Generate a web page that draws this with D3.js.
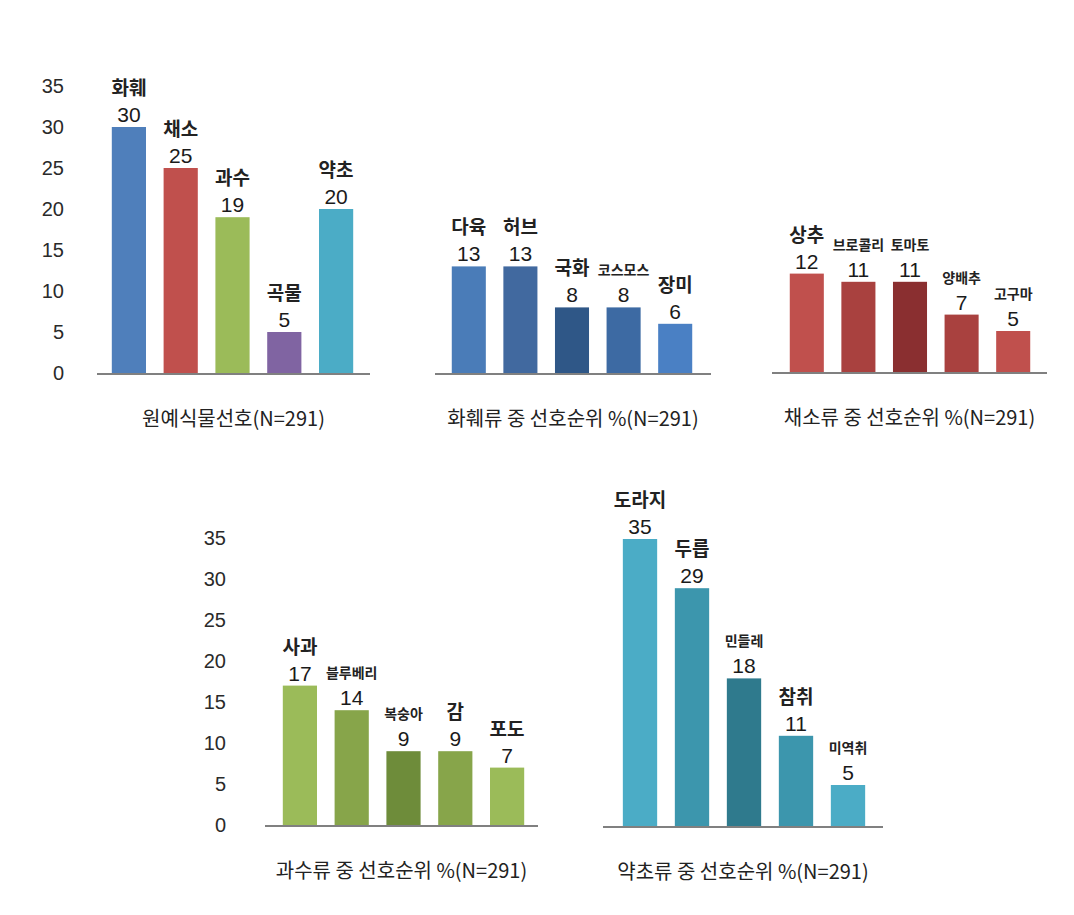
<!DOCTYPE html>
<html><head><meta charset="utf-8">
<script src="https://cdn.jsdelivr.net/npm/d3@7"></script>
<style>body{margin:0;background:#fff}</style>
</head><body><svg id="c" width="1074" height="915"></svg>
<script>
// ---- data ----
const mainCats = ["화훼","채소","과수","곡물","약초"];
const mainVals = [30,25,19,5,20];
const flowerCats = ["다육","허브","국화","코스모스","장미"];
const flowerVals = [13,13,8,8,6];
const vegCats = ["상추","브로콜리","토마토","양배추","고구마"];
const vegVals = [12,11,11,7,5];
const fruitCats = ["사과","블루베리","복숭아","감","포도"];
const fruitVals = [17,14,9,9,7];
const herbCats = ["도라지","두릅","민들레","참취","미역취"];
const herbVals = [35,29,18,11,5];
const tickVals = [0,5,10,15,20,25,30,35];
const titles = ["원예식물선호(N=291)","화훼류 중 선호순위 %(N=291)","채소류 중 선호순위 %(N=291)","과수류 중 선호순위 %(N=291)","약초류 중 선호순위 %(N=291)"];

// ---- style / layout ----
const smallLabels = new Set(["코스모스","브로콜리","토마토","양배추","고구마","블루베리","복숭아","민들레","미역취"]);
const panels = [
  {cats: mainCats, vals: mainVals, title: titles[0], band:[103,362], base:[97,370], y0:373, axisX:64,
   colors:["#4f7fbb","#c0504d","#9bbb59","#8064a2","#4bacc6"]},
  {cats: flowerCats, vals: flowerVals, title: titles[1], band:[443,701], base:[435,711], y0:373,
   colors:["#4a7cb8","#41699f","#2f5787","#3d6aa3","#4a80c4"]},
  {cats: vegCats, vals: vegVals, title: titles[2], band:[781,1039], base:[772,1047], y0:372,
   colors:["#c0504d","#a9413f","#8a2f30","#a9413f","#c0504d"]},
  {cats: fruitCats, vals: fruitVals, title: titles[3], band:[274,533], base:[265,538], y0:825, axisX:226,
   colors:["#9bbb59","#87a54a","#6e8c3a","#87a54a","#9bbb59"]},
  {cats: herbCats, vals: herbVals, title: titles[4], band:[614,874], base:[603,883], y0:826,
   colors:["#4bacc6","#3c96ad","#2f7a8d","#3c96ad","#4bacc6"]}
];
const pxPerUnit = 8.2;
const svg = d3.select("#c");
const kr = "'Noto Sans CJK KR','Noto Sans',sans-serif";
const num = "'Liberation Sans',Arial,sans-serif";

panels.forEach(p => {
  const g = svg.append("g");
  const x = d3.scaleBand().domain(p.cats).range(p.band).paddingInner(0.34).paddingOuter(0.17);
  const y = d3.scaleLinear().domain([0,35]).range([p.y0, p.y0 - 35*pxPerUnit]);

  if (p.axisX !== undefined) {
    const ax = g.append("g").attr("transform", `translate(${p.axisX},0)`)
      .call(d3.axisLeft(y).tickValues(tickVals).tickSize(0).tickPadding(0));
    ax.select(".domain").remove();
    ax.selectAll("text").attr("font-family", num).attr("font-size", 20).attr("fill", "#2a2a2a");
  }

  const data = p.cats.map((c,i) => ({c, v: p.vals[i], col: p.colors[i]}));
  g.selectAll("rect").data(data).join("rect")
    .attr("x", d => x(d.c)).attr("width", x.bandwidth())
    .attr("y", d => y(d.v)).attr("height", d => y(0) - y(d.v))
    .attr("fill", d => d.col);

  g.append("line").attr("x1", p.base[0]).attr("x2", p.base[1])
    .attr("y1", p.y0 + 1).attr("y2", p.y0 + 1)
    .attr("stroke", "#808080").attr("stroke-width", 2);

  g.selectAll("text.val").data(data).join("text").attr("class","val")
    .attr("x", d => x(d.c) + x.bandwidth()/2).attr("y", d => y(d.v) - 5)
    .attr("text-anchor","middle").attr("font-family", num).attr("font-size", 21)
    .attr("fill", "#1a1a1a").text(d => d.v);

  g.selectAll("text.cat").data(data).join("text").attr("class","cat")
    .attr("x", d => x(d.c) + x.bandwidth()/2).attr("y", d => y(d.v) - 32)
    .attr("text-anchor","middle").attr("font-family", kr)
    .attr("font-size", d => smallLabels.has(d.c) ? 14 : 19)
    .attr("font-weight", "bold").attr("fill", "#222").text(d => d.c);

  g.append("text").attr("x", (p.base[0]+p.base[1])/2).attr("y", p.y0 + 53)
    .attr("text-anchor","middle").attr("font-family", kr).attr("font-size", 20)
    .attr("fill", "#222").text(p.title);
});
</script></body></html>
